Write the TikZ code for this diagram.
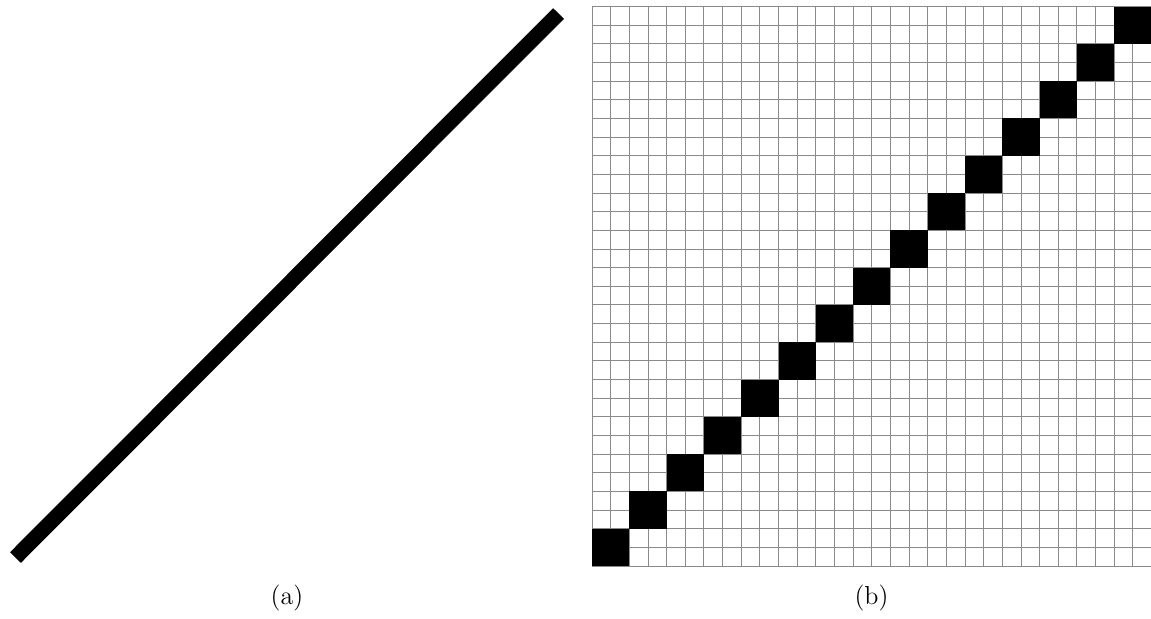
\documentclass[tikz,border=0pt]{standalone}
\usetikzlibrary{positioning,calc}
\definecolor{gridgray}{HTML}{8A8A8A}
\tikzset{
  caption/.style={font=\fontsize{13}{15}\selectfont, inner sep=0pt},
  pixel/.style={fill=black, draw=none}
}

\begin{document}
\begin{tikzpicture}[x=0.5pt,y=0.5pt]
\useasboundingbox (0,0) rectangle (1151,618);
% (a) continuous line
\draw[line width=7.6pt, line cap=butt] (15.5,60.5) -- (558.5,604.5);
% (b) rasterised line on a 30x30 grid
\def\cell{18.65}
\foreach \k in {0,...,30} {
  \draw[gridgray, line width=0.45pt] ({592+\k*\cell},52) -- ++(0,{30*\cell});
  \draw[gridgray, line width=0.45pt] (592,{52+\k*\cell}) -- ++({30*\cell},0);
}
\foreach \i in {0,...,14}
  \fill[pixel] ({592+2*\i*\cell},{52+2*\i*\cell}) rectangle ++({2*\cell},{2*\cell});
\node[caption] (capa) at (287,19.5) {(a)};
\node[caption] (capb) at (871.5,19.5) {(b)};
\end{tikzpicture}
\end{document}
